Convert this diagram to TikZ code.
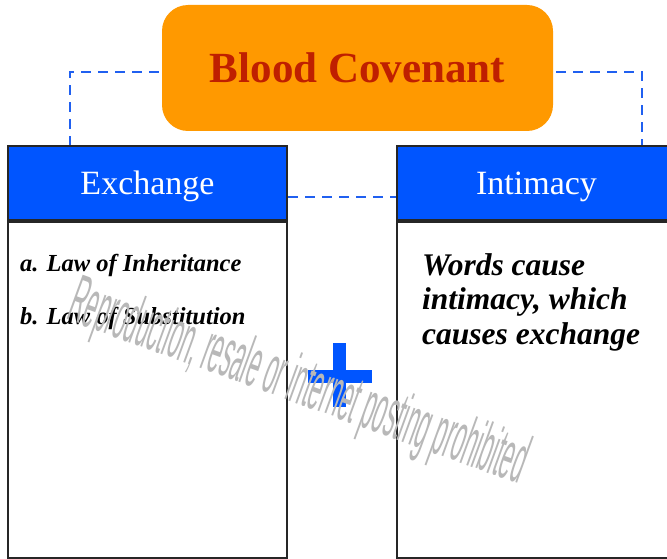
\documentclass[tikz,border=0pt]{standalone}
\usepackage{fontspec}
\setmainfont{Liberation Serif}
\setsansfont{Liberation Sans}
\definecolor{bcorange}{HTML}{FF9900}
\definecolor{bcred}{HTML}{BF1F00}
\definecolor{hdblue}{HTML}{0055FF}
\definecolor{dashblue}{HTML}{2060F0}
\tikzset{
  titlebox/.style={fill=bcorange, rounded corners=26pt, minimum width=391pt, minimum height=126pt, inner sep=0pt,
    font=\fontsize{43}{45}\selectfont\bfseries, text=bcred},
  headbox/.style={fill=hdblue, draw=black!85, line width=2.5pt, minimum width=279pt, minimum height=74pt, inner sep=0pt,
    font=\fontsize{34}{36}\selectfont, text=white, text height=30pt, text depth=7pt},
  bodybox/.style={fill=white, draw=black!85, line width=2.5pt, minimum width=279pt, minimum height=337pt, inner sep=0pt},
  link/.style={draw=dashblue, line width=2pt, dash pattern=on 10pt off 7pt},
  smalltext/.style={font=\fontsize{24.5}{26}\selectfont\bfseries\itshape, inner sep=0pt},
  bigtext/.style={font=\fontsize{31.5}{34.5}\selectfont\bfseries\itshape, inner sep=0pt, align=left},
  wmark/.style={font=\sffamily\fontsize{68}{70}\selectfont, text=black!28, inner sep=0pt}
}
\begin{document}
\begin{tikzpicture}[x=1pt,y=-1pt]
\useasboundingbox (0,0) rectangle (667,559);
\fill[white] (0,0) rectangle (667,559);

% title
\node[titlebox] (bc) at (357.5,68) {Blood Covenant};

% boxes
\node[bodybox, anchor=north] (exb) at (147.5,220) {};
\node[headbox] (ex) at (147.5,183) {Exchange};
\node[bodybox, anchor=north] (inb) at (536.5,220) {};
\node[headbox] (in) at (536.5,183) {Intimacy};

% dashed links
\coordinate (lc) at (70,72);
\coordinate (rc) at (642,72);
\draw[link] ([xshift=-3pt]bc.west |- lc) -- (lc) -- (lc |- ex.north);
\draw[link] ([xshift=3pt]bc.east |- rc) -- (rc) -- (rc |- in.north);
\draw[link] ([yshift=-14pt]ex.east) -- ([yshift=-14pt]in.west);

% texts
\node[smalltext, anchor=base west] (la) at (20,271) {a. Law of Inheritance};
\node[smalltext, anchor=base west] (lb) at (20,324) {b. Law of Substitution};
\node[bigtext, anchor=north west] (wt) at (422,253) {Words cause\\intimacy, which\\causes exchange};

% plus
\fill[hdblue] (308,370) rectangle (372,383);
\fill[hdblue] (333,343) rectangle (346,407);

% watermark
\node[wmark, rotate=-20] (wm) at (298,385) {\scalebox{0.32}[1]{Reproduction, resale or internet posting prohibited}};
\end{tikzpicture}
\end{document}
